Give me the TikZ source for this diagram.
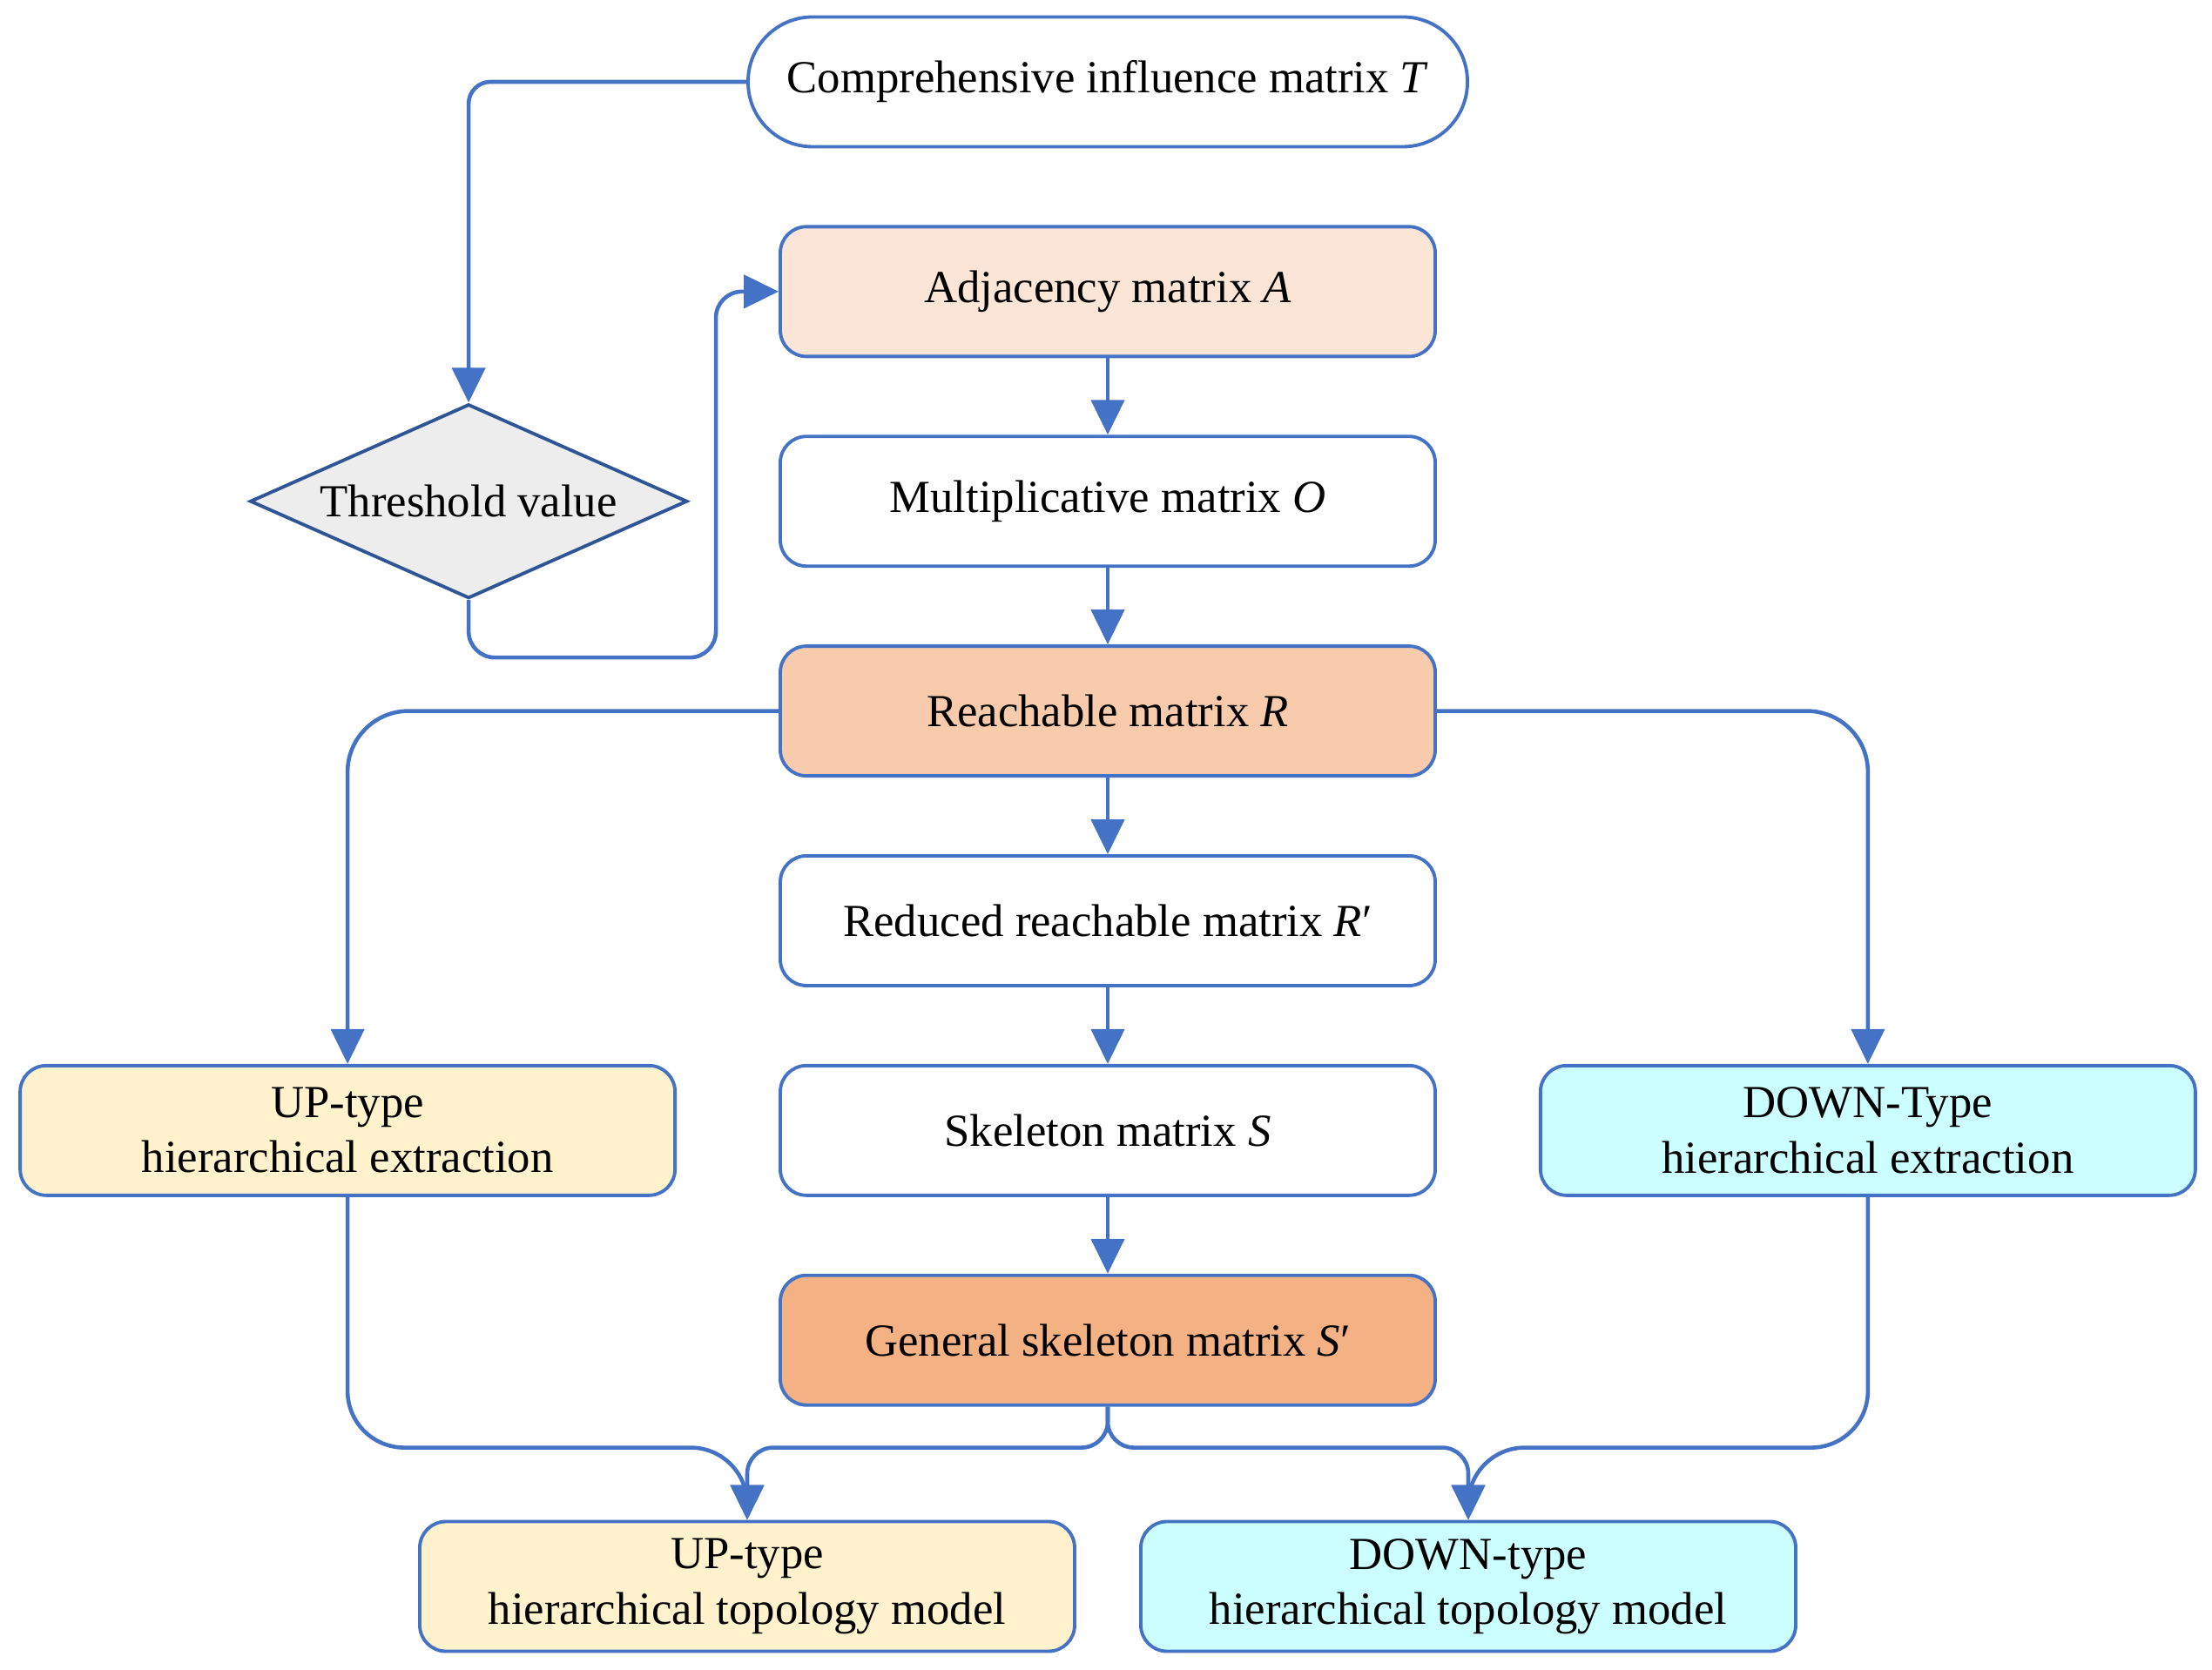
\documentclass[tikz,border=0pt]{standalone}
\usepackage{fontspec}
\setmainfont{Liberation Serif}
\usepackage{tikz}
\usetikzlibrary{arrows.meta, positioning, shapes.geometric}
\usepackage{xcolor}
\definecolor{lineblue}{HTML}{4472C4}
\definecolor{darkblue}{HTML}{2F5597}
\definecolor{adjfill}{HTML}{FBE5D6}
\definecolor{reachfill}{HTML}{F8CBAD}
\definecolor{skelfill}{HTML}{F4B183}
\definecolor{upfill}{HTML}{FFF2CC}
\definecolor{downfill}{HTML}{CCFFFF}
\definecolor{thrfill}{HTML}{EDEDED}

\begin{document}
\begin{tikzpicture}[node distance=0.88cm,
  box/.style={draw=lineblue, line width=1.1pt, rounded corners=0.3cm, fill=white,
    minimum width=7.52cm, minimum height=1.49cm, align=center, inner sep=0pt,
    font=\fontsize{15}{18}\selectfont},
  flow/.style={draw=lineblue, line width=1.3pt, -{Triangle[length=0.4cm, width=0.38cm]}}]
  \useasboundingbox (0,0) rectangle (25.4,-19.18);
  % main column
  \node[box, rounded corners=0.74cm, minimum width=8.26cm] (comp) at (12.72,-0.94) {Comprehensive influence matrix \textit{T}};
  \node[box, fill=adjfill, below=of comp] (adj) {Adjacency matrix \textit{A}};
  \node[box, below=of adj] (mult) {Multiplicative matrix \textit{O}};
  \node[box, fill=reachfill, below=of mult] (reach) {Reachable matrix \textit{R}};
  \node[box, below=of reach] (rred) {Reduced reachable matrix \textit{R}′};
  \node[box, below=of rred] (skel) {Skeleton matrix \textit{S}};
  \node[box, fill=skelfill, below=of skel] (gskel) {General skeleton matrix \textit{S}′};
  % side nodes
  \node[diamond, draw=darkblue, fill=thrfill, line width=1.1pt, aspect=2.25, inner sep=0pt,
    minimum width=5.02cm, minimum height=2.23cm, font=\fontsize{15}{18}\selectfont,
    left=1.03cm of mult] (thr) {Threshold value};
  \node[box, fill=upfill, left=1.17cm of skel] (upx) {UP-type\\hierarchical extraction};
  \node[box, fill=downfill, right=1.17cm of skel] (dnx) {DOWN-Type\\hierarchical extraction};
  \node[box, fill=upfill] (upm) at (8.58,-18.22) {UP-type\\hierarchical topology model};
  \node[box, fill=downfill] (dnm) at (16.86,-18.22) {DOWN-type\\hierarchical topology model};
  % connectors
  \draw[flow, rounded corners=0.25cm] (comp.west) -| (thr.north);
  \draw[flow, rounded corners=0.3cm] (thr.south) -- ++(0,-0.66) -| ([xshift=-0.72cm]adj.west) -- (adj.west);
  \foreach \a/\b in {adj/mult, mult/reach, reach/rred, rred/skel, skel/gskel}
    \draw[flow] (\a) -- (\b);
  \draw[flow, rounded corners=0.7cm] (reach.west) -| (upx.north);
  \draw[flow, rounded corners=0.7cm] (reach.east) -| (dnx.north);
  \draw[flow] (upx.south) [rounded corners=0.65cm] |- ([yshift=0.83cm]upm.north) [rounded corners=0.3cm] -- (upm.north);
  \draw[flow] (dnx.south) [rounded corners=0.65cm] |- ([yshift=0.83cm]dnm.north) [rounded corners=0.3cm] -- (dnm.north);
  \draw[flow, rounded corners=0.3cm] (gskel.south) |- ([yshift=0.83cm]upm.north) -- (upm.north);
  \draw[flow, rounded corners=0.3cm] (gskel.south) |- ([yshift=0.83cm]dnm.north) -- (dnm.north);
\end{tikzpicture}
\end{document}
